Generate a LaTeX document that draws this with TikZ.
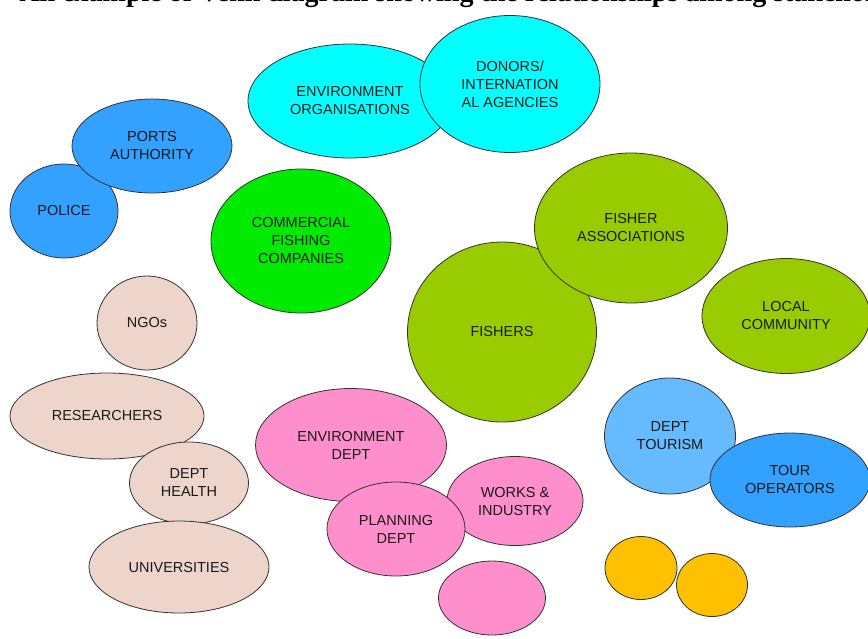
\documentclass[tikz,border=0pt]{standalone}
\usepackage{fontspec}
\setmainfont{Liberation Sans}
\newfontfamily\titlefont{Liberation Serif}
\usepackage{tikz}
\usetikzlibrary{shapes.geometric}

\definecolor{cyanorg}{RGB}{0,255,255}
\definecolor{portblue}{RGB}{51,161,255}
\definecolor{tourblue}{RGB}{102,187,255}
\definecolor{fishgreen}{RGB}{0,235,0}
\definecolor{olive}{RGB}{153,204,0}
\definecolor{beige}{RGB}{238,213,204}
\definecolor{deptpink}{RGB}{255,143,204}
\definecolor{amber}{RGB}{255,192,0}

\begin{document}
\begin{tikzpicture}[x=1pt, y=-1pt,
  stake/.style={ellipse, draw=black!80, line width=0.8pt, inner sep=0pt,
    align=center, text=black!90, font=\fontsize{14.5}{18}\selectfont},
  heading/.style={anchor=base west, font=\titlefont\bfseries\fontsize{28}{30}\selectfont}]
\useasboundingbox (0,0) rectangle (868,638);
\clip (0,0) rectangle (868,638);
%%% title, cut at the top of the page %%%

      \node[heading] (title) at (16,1) {An example of Venn diagram showing the relationships among stakeholders};

      %% international
      \node[stake, fill=cyanorg, minimum width=204, minimum height=114] (envorg) at (350,101) {ENVIRONMENT\\ ORGANISATIONS};
      \node[stake, fill=cyanorg, minimum width=180, minimum height=137] (donors) at (510,84) {DONORS/\\ INTERNATION\\ AL AGENCIES};
      %% enforcement
      \node[stake, fill=portblue, minimum width=108, minimum height=94] (police) at (64,211) {POLICE};
      \node[stake, fill=portblue, minimum width=160, minimum height=94] (ports) at (152,146) {PORTS\\ AUTHORITY};
      %% fishing
      \node[stake, fill=fishgreen, minimum width=180, minimum height=144] (commercial) at (301,241) {COMMERCIAL\\ FISHING\\ COMPANIES};
      \node[stake, fill=olive, minimum width=189, minimum height=180] (fishers) at (502,332) {FISHERS};
      \node[stake, fill=olive, minimum width=193, minimum height=150] (fishassoc) at (631,228) {FISHER\\ ASSOCIATIONS};
      \node[stake, fill=olive, minimum width=168, minimum height=115] (local) at (786,316) {LOCAL\\ COMMUNITY};
      %% research and health
      \node[stake, fill=beige, minimum width=100, minimum height=94] (ngos) at (147,323) {NGOs};
      \node[stake, fill=beige, minimum width=194, minimum height=86] (researchers) at (107,416) {RESEARCHERS};
      \node[stake, fill=beige, minimum width=119, minimum height=82] (health) at (189,483) {DEPT\\ HEALTH};
      \node[stake, fill=beige, minimum width=180, minimum height=92] (universities) at (179,567) {UNIVERSITIES};
      %% government
      \node[stake, fill=deptpink, minimum width=191, minimum height=113] (envdept) at (351,445) {ENVIRONMENT\\ DEPT};
      \node[stake, fill=deptpink, minimum width=136, minimum height=89] (works) at (515,501) {WORKS \&\\ INDUSTRY};
      \node[stake, fill=deptpink, minimum width=138, minimum height=94] (planning) at (396,529) {PLANNING\\ DEPT};
      \node[stake, fill=deptpink, minimum width=107, minimum height=74] (pinkblank) at (492,598) {};
      %% tourism
      \node[stake, fill=tourblue, minimum width=131, minimum height=116] (tourism) at (670,436) {DEPT\\ TOURISM};
      \node[stake, fill=portblue, minimum width=160, minimum height=94] (tourops) at (790,480) {TOUR\\ OPERATORS};
      %% unlabelled
      \node[stake, fill=amber, minimum width=72, minimum height=63] (amberleft) at (641,568) {};
      \node[stake, fill=amber, minimum width=71, minimum height=63] (amberright) at (712,585) {};

\end{tikzpicture}
\end{document}
